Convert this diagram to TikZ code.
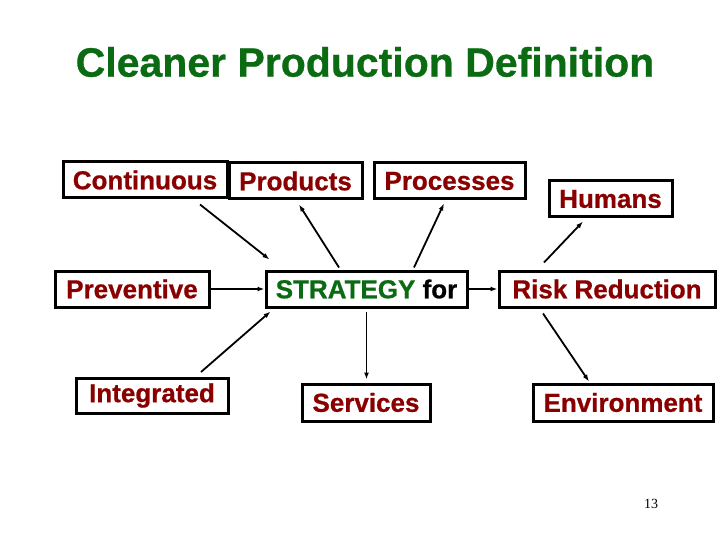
\documentclass[tikz,border=0pt]{standalone}
\usepackage{fontspec}
\setmainfont{Liberation Sans}
\newfontfamily\serifnum{Liberation Serif}
\newfontfamily\heavy[FakeBold=0.7]{Liberation Sans Bold}
\usetikzlibrary{arrows.meta}
\definecolor{titlegreen}{HTML}{0B6B12}
\definecolor{boxred}{HTML}{8A0000}
\tikzset{
  cpbox/.style={draw=black, line width=3pt, fill=white, inner sep=0pt,
    font=\heavy\fontsize{26}{28}\selectfont, text=boxred, anchor=center},
  arr/.style={line width=1.8pt, -{Latex[length=7pt,width=5pt]}}
}
\begin{document}
\begin{tikzpicture}[x=1pt,y=-1pt]
\useasboundingbox (0,0) rectangle (720,540);
\node[font=\heavy\fontsize{41}{44}\selectfont, text=titlegreen] (title) at (365,62) {Cleaner Production Definition};

\node[cpbox, minimum width=164pt, minimum height=36pt] (cont) at (145,180) {Continuous};
\node[cpbox, minimum width=133pt, minimum height=36pt] (prod) at (295.5,181) {Products};
\node[cpbox, minimum width=151pt, minimum height=36pt] (proc) at (449.5,181) {Processes};
\node[cpbox, minimum width=123pt, minimum height=36pt] (hum) at (610.5,199) {Humans};
\node[cpbox, minimum width=154pt, minimum height=36pt] (prev) at (132,289) {Preventive};
\node[cpbox, minimum width=201pt, minimum height=36pt] (strat) at (366.5,289) {\textcolor{titlegreen}{STRATEGY} \textcolor{black}{for}};
\node[cpbox, minimum width=216pt, minimum height=36pt] (risk) at (607,289) {Risk Reduction};
\node[cpbox, minimum width=152pt, minimum height=35pt] (integ) at (152,395.5) {Integrated};
\node[cpbox, minimum width=128pt, minimum height=37pt] (serv) at (366,402.5) {Services};
\node[cpbox, minimum width=180pt, minimum height=37pt] (env) at (623,402.5) {Environment};

\draw[arr] ([xshift=55pt,yshift=-5pt]cont.south) -- ([xshift=5pt,yshift=10pt]strat.north west);
\draw[arr] ([xshift=-27.5pt,yshift=2pt]strat.north) -- ([xshift=3.5pt,yshift=-4pt]prod.south);
\draw[arr] ([xshift=47.5pt,yshift=2pt]strat.north) -- ([xshift=-5.5pt,yshift=-3pt]proc.south);
\draw[arr] ([xshift=-63pt,yshift=7pt]risk.north) -- ([xshift=-27.5pt,yshift=-3pt]hum.south);
\draw[arr] (prev.east) -- (strat.west);
\draw[arr] (strat.east) -- (risk.west);
\draw[arr] ([xshift=49pt,yshift=4.5pt]integ.north) -- ([xshift=6pt,yshift=-3pt]strat.south west);
\draw[arr] ([yshift=-3pt]strat.south) -- ([xshift=0.5pt,yshift=3pt]serv.north);
\draw[arr] ([xshift=-64pt,yshift=-5pt]risk.south) -- ([xshift=-34pt,yshift=1pt]env.north);

\node[font=\serifnum\fontsize{14}{16}\selectfont] (pnum) at (651,504) {13};
\end{tikzpicture}
\end{document}
